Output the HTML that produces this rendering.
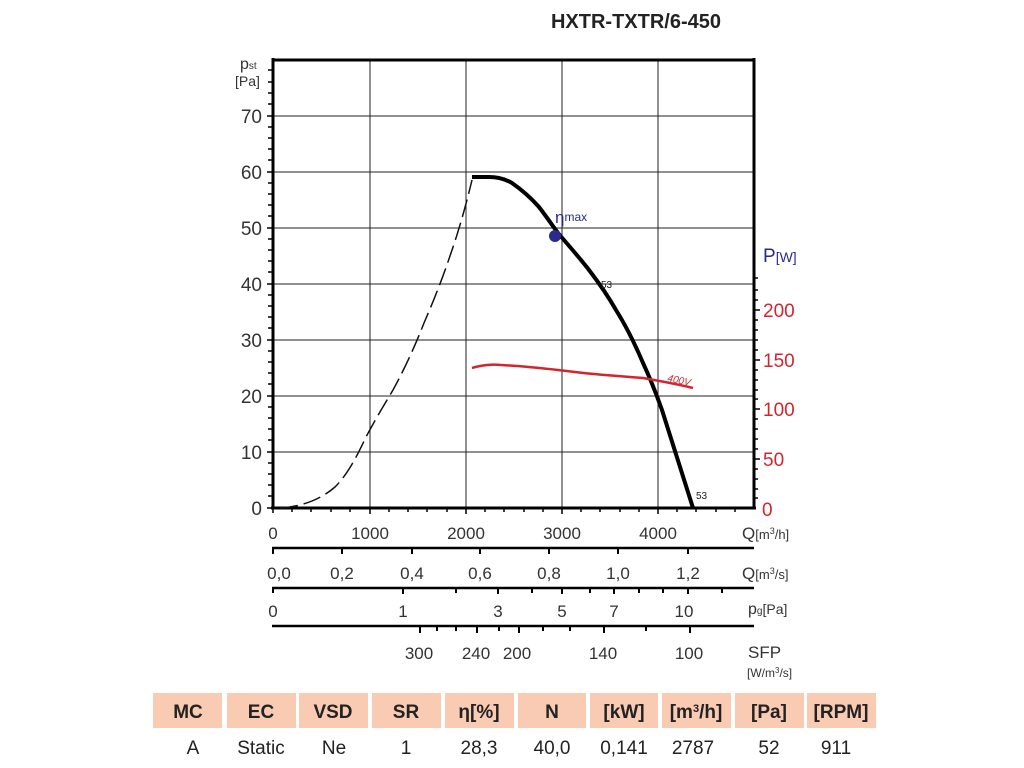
<!DOCTYPE html>
<html><head><meta charset="utf-8"><style>
body{margin:0;background:#fff;}
svg{display:block;font-family:"Liberation Sans",sans-serif;}
</style></head><body>
<svg width="1024" height="768" viewBox="0 0 1024 768">
<text x="636" y="28" font-size="20" font-weight="bold" fill="#222" text-anchor="middle">HXTR-TXTR/6-450</text>
<g stroke="#222" stroke-width="1">
<line x1="370" y1="60" x2="370" y2="508"/><line x1="466" y1="60" x2="466" y2="508"/>
<line x1="562" y1="60" x2="562" y2="508"/><line x1="658" y1="60" x2="658" y2="508"/>
<line x1="273" y1="116" x2="754" y2="116"/><line x1="273" y1="172" x2="754" y2="172"/>
<line x1="273" y1="228" x2="754" y2="228"/><line x1="273" y1="284" x2="754" y2="284"/>
<line x1="273" y1="340" x2="754" y2="340"/><line x1="273" y1="396" x2="754" y2="396"/>
<line x1="273" y1="452" x2="754" y2="452"/>
</g>
<g stroke="#000" stroke-width="3" fill="none">
<line x1="273" y1="60" x2="754" y2="60"/>
<line x1="273" y1="58" x2="273" y2="509"/>
<line x1="754" y1="58" x2="754" y2="509"/>
<line x1="271" y1="508" x2="756" y2="508"/>
</g>
<g stroke="#000" stroke-width="1.5">
<path d="M273 508v5M292 508v4M311 508v4M331 508v4M350 508v4M370 508v6M389 508v4M408 508v4M427 508v4M447 508v4M466 508v6M485 508v4M504 508v4M524 508v4M543 508v4M562 508v6M581 508v4M600 508v4M620 508v4M639 508v4M658 508v6M677 508v4M696 508v4M716 508v4M735 508v4"/>
<path d="M267 116h6M267 172h6M267 228h6M267 284h6M267 340h6M267 396h6M267 452h6M267 508h6M268 70h5M268 82h5M268 93h5M268 104h5M268 127h5M268 138h5M268 149h5M268 160h5M268 183h5M268 194h5M268 205h5M268 216h5M268 239h5M268 250h5M268 261h5M268 272h5M268 295h5M268 306h5M268 317h5M268 328h5M268 351h5M268 362h5M268 373h5M268 384h5M268 407h5M268 418h5M268 429h5M268 440h5M268 463h5M268 474h5M268 485h5M268 496h5"/>
<path d="M754 310h6M754 360h6M754 409h6M754 459h6M754 278h4M754 290h4M754 300h4M754 320h4M754 330h4M754 340h4M754 350h4M754 370h4M754 380h4M754 390h4M754 399h4M754 419h4M754 429h4M754 439h4M754 449h4M754 469h4M754 479h4M754 489h4M754 498h4"/>
</g>
<g font-size="19" fill="#333" text-anchor="end">
<text x="262" y="123">70</text><text x="262" y="179">60</text><text x="262" y="235">50</text>
<text x="262" y="291">40</text><text x="262" y="347">30</text><text x="262" y="403">20</text>
<text x="262" y="459">10</text><text x="262" y="515">0</text>
</g>
<text x="240" y="69" font-size="16" fill="#333">p<tspan font-size="10">st</tspan></text>
<text x="235" y="86" font-size="14" fill="#333">[Pa]</text>
<g font-size="19" fill="#d0262f">
<text x="763" y="317">200</text><text x="763" y="367">150</text><text x="763" y="416">100</text>
<text x="763" y="466">50</text><text x="762" y="516">0</text>
</g>
<text x="763" y="262" font-size="19" fill="#2a2a8a">P<tspan font-size="14">[W]</tspan></text>
<path d="M280 508 C300 507 320 500 335 487 C348 474 357 456 366 437 C375 420 384 405 393 390 C405 368 415 346 424 323 C434 300 443 277 451 253 C459 230 466 205 472 180" fill="none" stroke="#111" stroke-width="1.5" stroke-dasharray="18,6"/>
<path d="M472 177 L489 177 C498 177 505 179 512 183 C522 190 531 198 539 207 C546 216 552 225 558 233 C569 246 579 257 589 270 C599 283 608 296 616 310 C626 326 635 344 643 363 C650 378 656 393 662 410 L693 508" fill="none" stroke="#000" stroke-width="4" stroke-linejoin="round"/>
<path d="M472 368 C482 365 492 364 501 365 C520 366 540 368 558 370 C575 372 590 374 605 375 C618 376 630 377 643 378 C660 381 677 384 693 388" fill="none" stroke="#d0262f" stroke-width="2.5"/>
<circle cx="555" cy="236" r="6" fill="#2a2a8a"/>
<text x="555" y="223" font-size="17" fill="#2a2a8a">η<tspan font-size="12" dy="-2">max</tspan></text>
<text x="601" y="288" font-size="10" fill="#222">53</text>
<text x="696" y="499" font-size="10" fill="#222">53</text>
<text x="667" y="381" font-size="10" fill="#d0262f" font-style="italic" transform="rotate(12 667 381)">400V</text>
<g font-size="17" fill="#333" text-anchor="middle">
<text x="273" y="539">0</text><text x="370" y="539">1000</text><text x="466" y="539">2000</text>
<text x="562" y="539">3000</text><text x="658" y="539">4000</text>
</g>
<text x="742" y="539" font-size="17" fill="#333">Q<tspan font-size="13">[m<tspan baseline-shift="super" font-size="9">3</tspan>/h]</tspan></text>
<g stroke="#000" stroke-width="2.5"><line x1="272" y1="548" x2="754" y2="548"/><line x1="272" y1="588" x2="754" y2="588"/><line x1="272" y1="626" x2="754" y2="626"/></g>
<g stroke="#000" stroke-width="2">
<path d="M273 548v6M342 548v6M412 548v6M480 548v6M549 548v6M618 548v6M688 548v6"/>
<path d="M273 588v5M403 588v6M456 588v5M498 588v6M532 588v5M562 588v6M590 588v5M614 588v6M639 588v5M663 588v5M688 588v6M722 588v5"/>
<path d="M420 626v7M437 626v5M456 626v5M477 626v7M499 626v5M519 626v7M543 626v5M570 626v5M604 626v7M646 626v5M690 626v7"/>
</g>
<g font-size="17" fill="#333" text-anchor="middle">
<text x="279" y="579">0,0</text><text x="342" y="579">0,2</text><text x="412" y="579">0,4</text>
<text x="480" y="579">0,6</text><text x="549" y="579">0,8</text><text x="618" y="579">1,0</text><text x="688" y="579">1,2</text>
<text x="273" y="617">0</text><text x="403" y="617">1</text><text x="498" y="617">3</text>
<text x="562" y="617">5</text><text x="614" y="617">7</text><text x="684" y="617">10</text>
<text x="419" y="659">300</text><text x="476" y="659">240</text><text x="517" y="659">200</text>
<text x="603" y="659">140</text><text x="689" y="659">100</text>
</g>
<text x="742" y="579" font-size="17" fill="#333">Q<tspan font-size="13">[m<tspan baseline-shift="super" font-size="9">3</tspan>/s]</tspan></text>
<text x="748" y="614" font-size="16" fill="#333">p<tspan font-size="10">g</tspan><tspan font-size="14">[Pa]</tspan></text>
<text x="748" y="658" font-size="17" fill="#333">SFP</text>
<text x="747" y="677" font-size="12" fill="#333">[W/m<tspan baseline-shift="super" font-size="8">3</tspan>/s]</text>
<g fill="#f9cbb3">
<rect x="153" y="693" width="69" height="35"/><rect x="227" y="693" width="69" height="35"/>
<rect x="299" y="693" width="69" height="35"/><rect x="372" y="693" width="69" height="35"/>
<rect x="445" y="693" width="69" height="35"/><rect x="518" y="693" width="68" height="35"/>
<rect x="590" y="693" width="68" height="35"/><rect x="662" y="693" width="69" height="35"/>
<rect x="735" y="693" width="69" height="35"/><rect x="807" y="693" width="69" height="35"/>
</g>
<g font-size="19" font-weight="bold" fill="#222" text-anchor="middle">
<text x="188" y="718">MC</text><text x="261" y="718">EC</text><text x="333" y="718">VSD</text>
<text x="406" y="718">SR</text><text x="479" y="718">η[%]</text><text x="552" y="718">N</text>
<text x="624" y="718">[kW]</text><text x="696" y="718">[m<tspan baseline-shift="super" font-size="11">3</tspan>/h]</text>
<text x="769" y="718">[Pa]</text><text x="841" y="718">[RPM]</text>
</g>
<g font-size="19" fill="#222" text-anchor="middle">
<text x="193" y="754">A</text><text x="261" y="754">Static</text><text x="334" y="754">Ne</text>
<text x="406" y="754">1</text><text x="479" y="754">28,3</text><text x="552" y="754">40,0</text>
<text x="624" y="754">0,141</text><text x="693" y="754">2787</text>
<text x="769" y="754">52</text><text x="836" y="754">911</text>
</g>
</svg>
</body></html>
